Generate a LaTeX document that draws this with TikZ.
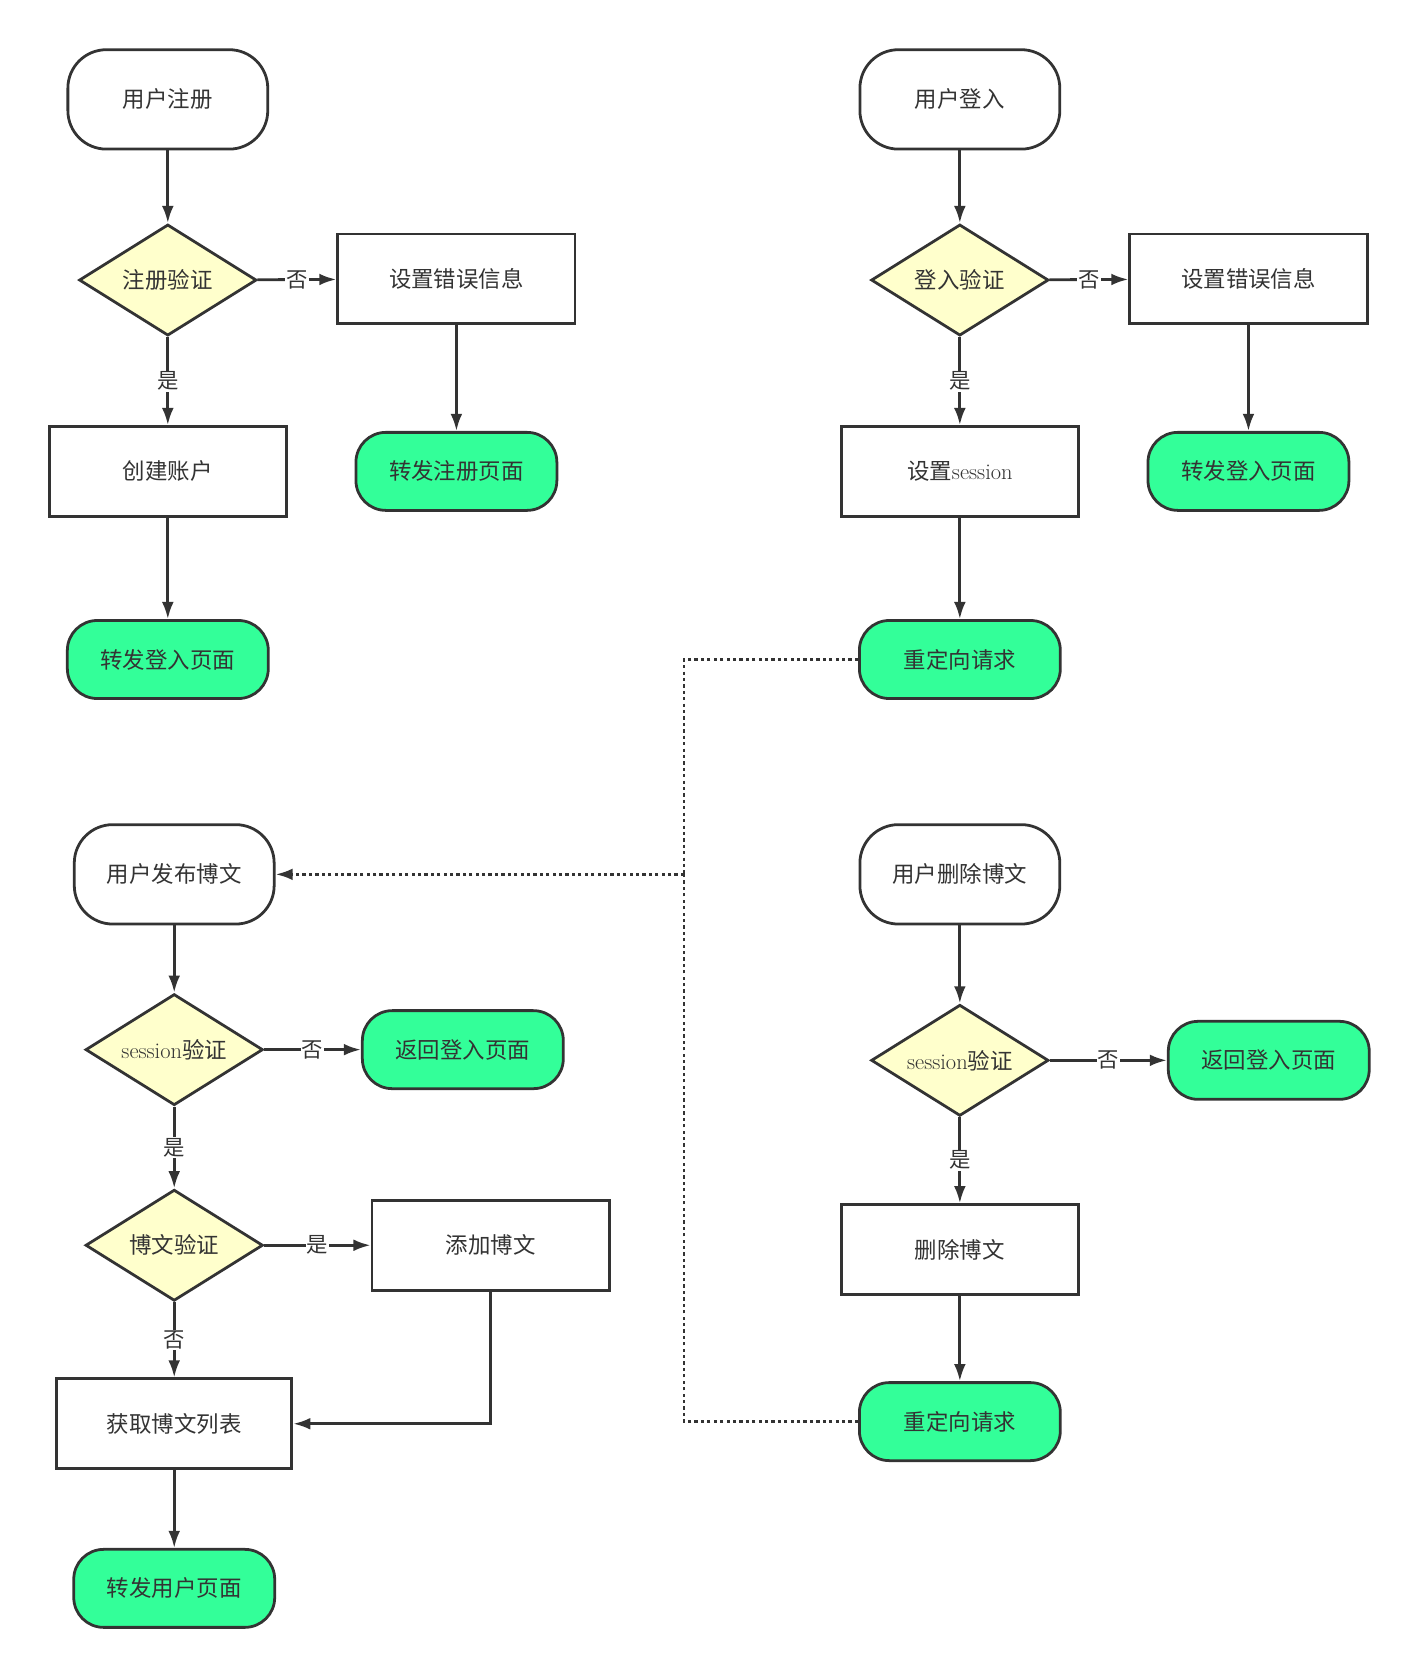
\documentclass[tikz,border=0pt]{standalone}
\usepackage{fontspec}
\newfontfamily\cjk{Noto Sans CJK SC}
\usetikzlibrary{shapes.geometric,arrows.meta}
\definecolor{gr}{HTML}{33FF99}
\definecolor{ye}{HTML}{FFFFCC}
\definecolor{ln}{HTML}{333333}
\begin{document}
\begin{tikzpicture}[x=1pt,y=-1pt,
  base/.style={draw=ln,line width=2.6pt,font=\cjk\fontsize{21}{24}\selectfont,text=ln,inner sep=0pt},
  term/.style={base,rounded corners=36pt,minimum width=187pt,minimum height=93pt,fill=white},
  grn/.style={base,rounded corners=28pt,minimum width=188pt,minimum height=73pt,fill=gr},
  box/.style={base,rectangle,minimum width=222pt,minimum height=84pt,fill=white},
  dia/.style={base,diamond,aspect=1.6,minimum width=166pt,minimum height=104pt,fill=ye},
  ar/.style={draw=ln,line width=2.6pt,-{Latex[length=16pt,width=11pt]}},
  lb/.style={fill=white,font=\cjk\fontsize{20}{22}\selectfont,text=ln,inner sep=1pt},
  dot/.style={draw=ln,line width=2.6pt,dash pattern=on 3pt off 3pt}]
\useasboundingbox (0,0) rectangle (1330,1568);
% column A
\node[term] (a1) at (157,93) {用户注册};
\node[dia] (a2) at (157,262) {注册验证};
\node[box] (a3) at (427,261) {设置错误信息};
\node[grn] (a4) at (427,441) {转发注册页面};
\node[box] (a5) at (157,441) {创建账户};
\node[grn] (a6) at (157,617) {转发登入页面};
\draw[ar] (a1) -- (a2);
\draw[ar] (a2) -- node[lb]{否} (a3);
\draw[ar] (a3) -- (a4);
\draw[ar] (a2) -- node[lb]{是} (a5);
\draw[ar] (a5) -- (a6);
% column B
\node[term] (b1) at (898,93) {用户登入};
\node[dia] (b2) at (898,262) {登入验证};
\node[box] (b3) at (1168,261) {设置错误信息};
\node[grn] (b4) at (1168,441) {转发登入页面};
\node[box] (b5) at (898,441) {设置{\rmfamily session}};
\node[grn] (b6) at (898,617) {重定向请求};
\draw[ar] (b1) -- (b2);
\draw[ar] (b2) -- node[lb]{否} (b3);
\draw[ar] (b3) -- (b4);
\draw[ar] (b2) -- node[lb]{是} (b5);
\draw[ar] (b5) -- (b6);
% column C
\node[term] (c1) at (163,818) {用户发布博文};
\node[dia] (c2) at (163,982) {{\rmfamily session}验证};
\node[grn] (c3) at (433,982) {返回登入页面};
\node[dia] (c4) at (163,1165) {博文验证};
\node[box] (c5) at (459,1165) {添加博文};
\node[box,minimum width=220pt] (c6) at (163,1332) {获取博文列表};
\node[grn] (c7) at (163,1486) {转发用户页面};
\draw[ar] (c1) -- (c2);
\draw[ar] (c2) -- node[lb]{否} (c3);
\draw[ar] (c2) -- node[lb]{是} (c4);
\draw[ar] (c4) -- node[lb]{是} (c5);
\draw[ar] (c4) -- node[lb]{否} (c6);
\draw[ar] (c5) |- (c6);
\draw[ar] (c6) -- (c7);
% column D
\node[term] (d1) at (898,818) {用户删除博文};
\node[dia] (d2) at (898,992) {{\rmfamily session}验证};
\node[grn] (d3) at (1187,992) {返回登入页面};
\node[box] (d4) at (898,1169) {删除博文};
\node[grn] (d5) at (898,1330) {重定向请求};
\draw[ar] (d1) -- (d2);
\draw[ar] (d2) -- node[lb]{否} (d3);
\draw[ar] (d2) -- node[lb]{是} (d4);
\draw[ar] (d4) -- (d5);
% dotted links
\coordinate (j) at (640,818);
\draw[dot] (b6.west) -| (j);
\draw[dot] (d5.west) -| (j);
\draw[dot,-{Latex[length=16pt,width=11pt]}] (j) -- (c1.east);
\end{tikzpicture}
\end{document}
